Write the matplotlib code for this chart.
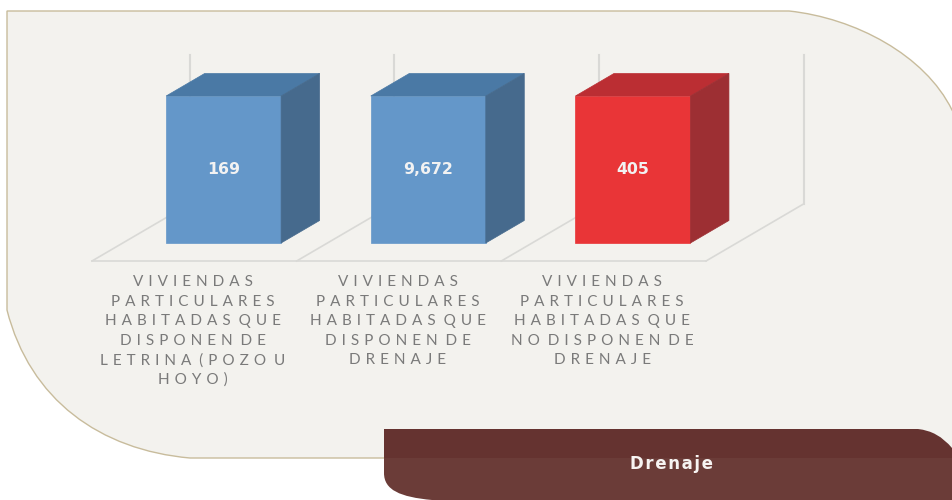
import matplotlib
matplotlib.use("Agg")
import matplotlib.pyplot as plt
from matplotlib.patches import PathPatch, Polygon, Rectangle
from matplotlib.path import Path

# ---------- data ----------
category_lines = [
    ["VIVIENDAS", "PARTICULARES", "HABITADAS QUE", "DISPONEN DE", "LETRINA (POZO U", "HOYO)"],
    ["VIVIENDAS", "PARTICULARES", "HABITADAS QUE", "DISPONEN DE", "DRENAJE"],
    ["VIVIENDAS", "PARTICULARES", "HABITADAS QUE", "NO DISPONEN DE", "DRENAJE"],
]
values = [169, 9672, 405]
# The reference draws all three columns at the same height, whatever the label says.
bar_levels = [100, 100, 100]
banner_title = "Drenaje"

# ---------- styles ----------
W, H = 952, 500
PANEL = "#f3f2ee"
EDGE = "#c8bc9c"
GRID = "#d9d9d6"
TEXT = "#7a7a7a"
bar_colors = [
    ("#6497c9", "#4a79a5", "#466a8d"),
    ("#6497c9", "#4a79a5", "#466a8d"),
    ("#e93537", "#bb2e33", "#9d2f33"),
]
FONT = ["Lato", "DejaVu Sans"]
SPACE = "\u200a"


def spaced(text, n, word_pad=0):
    """Letter-spacing: n hair spaces between letters, a padded space between words."""
    gap = SPACE * word_pad + " " + SPACE * word_pad
    return gap.join((SPACE * n).join(word) for word in text.split(" "))


fig = plt.figure(figsize=(W / 100, H / 100), dpi=100, facecolor="white")

# page layer in pixel coordinates
bg = fig.add_axes([0, 0, 1, 1])
bg.set_xlim(0, W)
bg.set_ylim(H, 0)
bg.axis("off")

panel_path = Path(
    [(7, 11), (789, 11), (855, 18), (925, 55), (952, 110), (965, 130), (965, 458),
     (190, 458), (100, 450), (30, 400), (7, 310), (7, 11)],
    [Path.MOVETO, Path.LINETO, Path.CURVE4, Path.CURVE4, Path.CURVE4, Path.LINETO, Path.LINETO,
     Path.LINETO, Path.CURVE4, Path.CURVE4, Path.CURVE4, Path.CLOSEPOLY],
)
bg.add_patch(PathPatch(panel_path, facecolor=PANEL, edgecolor=EDGE, lw=1.0))

banner_path = Path(
    [(384, 429), (918, 429), (938, 431), (952, 448), (952, 448), (965, 448), (965, 510), (432, 510),
     (432, 500), (400, 497), (384, 490), (384, 473), (384, 429)],
    [Path.MOVETO, Path.LINETO, Path.CURVE3, Path.CURVE3, Path.LINETO, Path.LINETO, Path.LINETO, Path.LINETO,
     Path.LINETO, Path.CURVE4, Path.CURVE4, Path.CURVE4, Path.CLOSEPOLY],
)
banner_patch = PathPatch(banner_path, facecolor="none", edgecolor="none")
bg.add_patch(banner_patch)
for y0, y1, c in [(420, 458, "#653330"), (458, 510, "#6b3c38")]:
    r = Rectangle((370, y0), 600, y1 - y0, facecolor=c, edgecolor="none")
    bg.add_patch(r)
    r.set_clip_path(banner_patch)
bg.text(672, 464, spaced(banner_title, 1), color="#f7f4f2", fontsize=12, fontweight="bold",
        family="DejaVu Sans", ha="center", va="center")

# chart layer: x = category index, y = level, both through the axes' own scales
FLOOR_FRONT_PX, AX_LEFT_PX, AX_RIGHT_PX = 261, 92, 706
PX_PER_LEVEL = 1.47
ax = fig.add_axes([AX_LEFT_PX / W, 1 - FLOOR_FRONT_PX / H, (AX_RIGHT_PX - AX_LEFT_PX) / W, 150 / H])
ax.set_xlim(-0.5, 2.5)
ax.set_ylim(0, 150 / PX_PER_LEVEL)
ax.axis("off")
ax.patch.set_alpha(0)

PX_PER_CAT = (AX_RIGHT_PX - AX_LEFT_PX) / 3
DEPTH_DX = 97.5 / PX_PER_CAT      # floor depth along x, in category units
DEPTH_DY = 57 / PX_PER_LEVEL      # floor depth along y, in level units
WALL_TOP = 149 / PX_PER_LEVEL


def proj(x, level, depth):
    return x + depth * DEPTH_DX, level + depth * DEPTH_DY


# floor and back wall
ax.plot(*zip(proj(-0.5, 0, 0), proj(2.5, 0, 0)), color=GRID, lw=1.2, clip_on=False, zorder=1)
for k in range(len(values) + 1):
    xe = k - 0.5
    ax.plot(*zip(proj(xe, 0, 0), proj(xe, 0, 1)), color=GRID, lw=1.2, clip_on=False, zorder=1)
    ax.plot(*zip(proj(xe, 0, 1), proj(xe, WALL_TOP, 1)), color=GRID, lw=1.5, clip_on=False, zorder=1)

# columns
BAR_W = 115 / PX_PER_CAT
BAR_SHIFT = -1.5 / PX_PER_CAT
D0, D1 = 18 / 57, 40.5 / 57
for i, (lvl, val, cols) in enumerate(zip(bar_levels, values, bar_colors)):
    x0, x1 = i + BAR_SHIFT - BAR_W / 2, i + BAR_SHIFT + BAR_W / 2
    front = [proj(x0, 0, D0), proj(x1, 0, D0), proj(x1, lvl, D0), proj(x0, lvl, D0)]
    side = [proj(x1, 0, D0), proj(x1, 0, D1), proj(x1, lvl, D1), proj(x1, lvl, D0)]
    top = [proj(x0, lvl, D0), proj(x1, lvl, D0), proj(x1, lvl, D1), proj(x0, lvl, D1)]
    for pts, c in zip((front, top, side), cols):
        ax.add_patch(Polygon(pts, closed=True, facecolor=c, edgecolor=c, lw=0.5, clip_on=False, zorder=3))
    cx, cy = proj(i + BAR_SHIFT, lvl * 0.5, D0)
    ax.text(cx, cy, f"{val:,}", color="#f2f2f2", fontsize=11.3, fontweight="bold",
            family="DejaVu Sans", ha="center", va="center", zorder=4)

# category labels
LINE_PX = 19.4
for i, lines in enumerate(category_lines):
    xc = proj(i, 0, 0)[0]
    for j, line in enumerate(lines):
        ax.annotate(spaced(line, 5, 2), xy=(xc, 0), xycoords="data",
                    xytext=(-1, -(21.5 + j * LINE_PX) * 0.72), textcoords="offset points",
                    ha="center", va="center", color=TEXT, fontsize=11, family=FONT,
                    annotation_clip=False)

fig.savefig("out.png", dpi=100, facecolor="white")
